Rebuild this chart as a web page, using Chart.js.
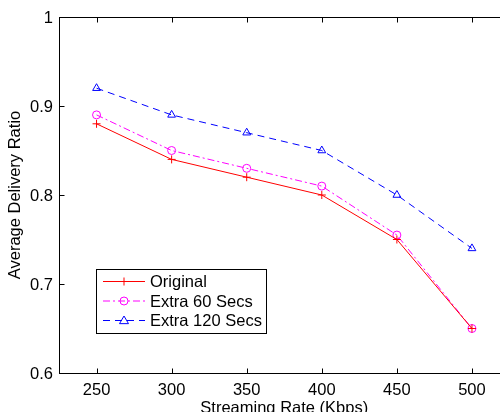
<!DOCTYPE html>
<html><head><meta charset="utf-8">
<script src="https://cdn.jsdelivr.net/npm/chart.js@4/dist/chart.umd.min.js"></script>
<style>html,body{margin:0;padding:0;overflow:hidden;background:#fff}#wrap{width:520px;height:420px;position:relative}</style>
</head><body><div id="wrap"><canvas id="c"></canvas></div>
<script>
const rates = [250, 300, 350, 400, 450, 500];
const original = [0.88, 0.84, 0.82, 0.80, 0.75, 0.65];
const extra60 = [0.89, 0.85, 0.83, 0.81, 0.755, 0.65];
const extra120 = [0.92, 0.89, 0.87, 0.85, 0.80, 0.74];
const seriesNames = ['Original', 'Extra 60 Secs', 'Extra 120 Secs'];
const xTicks = [250, 300, 350, 400, 450, 500];
const xTickLabels = ['250', '300', '350', '400', '450', '500'];
const yTicks = [0.6, 0.7, 0.8, 0.9, 1];
const yTickLabels = ['0.6', '0.7', '0.8', '0.9', '1'];

const FONT = 'Liberation Sans, Arial, Helvetica, sans-serif';
const FS = 16.5;
const pts = arr => rates.map((r, i) => ({x: r, y: arr[i]}));

function drawMarker(ctx, style, x, y, r, color) {
  ctx.save();
  ctx.setLineDash([]);
  ctx.strokeStyle = color;
  ctx.lineWidth = 1;
  ctx.beginPath();
  if (style === 'cross') {
    ctx.moveTo(x - r, y); ctx.lineTo(x + r, y);
    ctx.moveTo(x, y - r); ctx.lineTo(x, y + r);
  } else if (style === 'circle') {
    ctx.arc(x, y, r, 0, Math.PI * 2);
  } else if (style === 'triangle') {
    ctx.moveTo(x, y - r); ctx.lineTo(x + r, y + r * 0.7); ctx.lineTo(x - r, y + r * 0.7); ctx.closePath();
  }
  ctx.stroke();
  ctx.restore();
}

const framePlugin = {
  id: 'frame',
  afterDraw(chart) {
    const {ctx, chartArea: a, scales} = chart;
    ctx.save();
    ctx.strokeStyle = '#000';
    ctx.lineWidth = 1;
    const L = Math.round(a.left) + 0.5, R = Math.round(a.right) + 0.5;
    const T = Math.round(a.top) + 0.5, B = Math.round(a.bottom) + 0.5;
    ctx.strokeRect(L, T, R - L, B - T);
    const tl = 5;
    ctx.beginPath();
    xTicks.forEach(v => {
      const px = Math.round(scales.x.getPixelForValue(v)) + 0.5;
      ctx.moveTo(px, B); ctx.lineTo(px, B - tl);
      ctx.moveTo(px, T); ctx.lineTo(px, T + tl);
    });
    yTicks.forEach(v => {
      const py = Math.round(scales.y.getPixelForValue(v)) + 0.5;
      ctx.moveTo(L, py); ctx.lineTo(L + tl, py);
      ctx.moveTo(R, py); ctx.lineTo(R - tl, py);
    });
    ctx.stroke();

    // legend
    const bx = 96.5, by = 269.5, bw = 170, bh = 64;
    ctx.fillStyle = '#fff';
    ctx.fillRect(bx, by, bw, bh);
    ctx.strokeRect(bx, by, bw, bh);
    ctx.font = FS + 'px ' + FONT;
    ctx.textBaseline = 'middle';
    ctx.textAlign = 'left';
    chart.data.datasets.forEach((ds, i) => {
      const y = 281.5 + i * 19.5;
      ctx.save();
      ctx.strokeStyle = ds.borderColor;
      ctx.lineWidth = ds.borderWidth;
      ctx.setLineDash(ds.borderDash || []);
      ctx.beginPath();
      ctx.moveTo(103, y); ctx.lineTo(145, y);
      ctx.stroke();
      ctx.restore();
      drawMarker(ctx, ds.pointStyle, 124, y, ds.pointRadius, ds.borderColor);
      ctx.fillStyle = '#000';
      ctx.fillText(ds.label, 150, y + 1);
    });
    ctx.restore();
  }
};

new Chart(document.getElementById('c'), {
  type: 'line',
  data: {
    datasets: [
      {label: seriesNames[0], data: pts(original), borderColor: '#ff0000', backgroundColor: 'transparent',
       borderWidth: 1, pointStyle: 'cross', pointRadius: 4, pointBorderWidth: 1, pointBackgroundColor: 'transparent', tension: 0},
      {label: seriesNames[1], data: pts(extra60), borderColor: '#ff00ff', backgroundColor: 'transparent',
       borderWidth: 1, borderDash: [7, 3, 2, 3], pointStyle: 'circle', pointRadius: 4, pointBorderWidth: 1, pointBackgroundColor: 'transparent', tension: 0},
      {label: seriesNames[2], data: pts(extra120), borderColor: '#0000ff', backgroundColor: 'transparent',
       borderWidth: 1, borderDash: [7, 5], pointStyle: 'triangle', pointRadius: 4.5, pointBorderWidth: 1, pointBackgroundColor: 'transparent', tension: 0}
    ]
  },
  options: {
    responsive: true,
    maintainAspectRatio: false,
    animation: false,
    layout: {padding: {top: 17, right: 10.5, left: 0, bottom: 0}},
    plugins: {legend: {display: false}, tooltip: {enabled: false}},
    scales: {
      x: {
        type: 'linear', min: 225, max: 525,
        afterBuildTicks: s => { s.ticks = xTicks.map(v => ({value: v})); },
        afterFit: s => { s.height = 47; },
        grid: {display: false, drawTicks: false},
        border: {display: false},
        ticks: {color: '#000', font: {family: FONT, size: FS}, padding: 8, maxRotation: 0, autoSkip: false,
                callback: (v, i) => xTickLabels[i]},
        title: {display: true, text: 'Streaming Rate (Kbps)', color: '#000', font: {family: FONT, size: FS}, padding: {top: 0, bottom: 2}}
      },
      y: {
        min: 0.6, max: 1,
        afterBuildTicks: s => { s.ticks = yTicks.map(v => ({value: v})); },
        afterFit: s => { s.width = 59; },
        grid: {display: false, drawTicks: false},
        border: {display: false},
        ticks: {color: '#000', font: {family: FONT, size: FS}, padding: 6, autoSkip: false, labelOffset: 1,
                callback: (v, i) => yTickLabels[i]},
        title: {display: true, text: 'Average Delivery Ratio', color: '#000', font: {family: FONT, size: FS}, padding: {top: 6, bottom: 0}}
      }
    }
  },
  plugins: [framePlugin]
});
</script>
</body></html>
